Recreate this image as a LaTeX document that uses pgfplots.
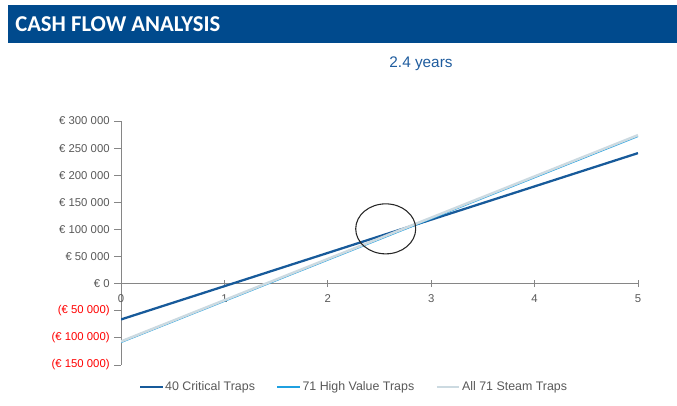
\documentclass[border=0pt]{standalone}
\usepackage{pgfplots}
\pgfplotsset{compat=1.18}
\usepackage{fontspec}
\setmainfont{Liberation Sans}
\newfontfamily\carlito{Carlito}
\definecolor{banner}{HTML}{004A8D}
\definecolor{titleblue}{HTML}{1F5C9E}
\definecolor{darkblue}{HTML}{175A9A}
\definecolor{brightblue}{HTML}{1FA0E0}
\definecolor{lightgray}{HTML}{CCDAE1}
\definecolor{axisgray}{HTML}{868686}
\definecolor{labelgray}{HTML}{595959}
\begin{document}
\begin{tikzpicture}
\useasboundingbox (0,0) rectangle (507.75pt,303.75pt);
\fill[banner] (6pt,271.5pt) rectangle (507.75pt,300pt);
\node[anchor=west,text=white,inner sep=0pt] at (11.25pt,285.75pt) {\carlito\bfseries\fontsize{17}{20}\selectfont CASH FLOW ANALYSIS};
\node[text=titleblue,inner sep=0pt] at (315.75pt,256.1pt) {\fontsize{11.5}{13}\selectfont 2.4 years};
\begin{axis}[
  at={(90.75pt,30pt)}, anchor=south west,
  scale only axis, width=387.75pt, height=183pt,
  xmin=0, xmax=5, ymin=-150000, ymax=300000,
  axis x line=middle, axis y line=left,
  axis line style={-,axisgray,line width=0.6pt},
  hide obscured x ticks=false, hide obscured y ticks=false,
  scaled y ticks=false,
  xtick={0,1,2,3,4,5},
  ytick={-150000,-100000,-50000,0,50000,100000,150000,200000,250000,300000},
  yticklabels={\textcolor{red}{(€ 150 000)},\textcolor{red}{(€ 100 000)},\textcolor{red}{(€ 50 000)},€ 0,€ 50 000,€ 100 000,€ 150 000,€ 200 000,€ 250 000,€ 300 000},
  xtick align=center, ytick align=outside,
  major tick length=5pt,
  tick style={axisgray,line width=0.6pt},
  every tick label/.append style={font=\fontsize{8.5}{10}\selectfont, text=labelgray},
  /pgf/number format/assume math mode=true,
  xticklabel style={yshift=-2pt},
  legend columns=3,
  legend style={draw=none, at={(0.45,-0.09)}, anchor=center, font=\fontsize{9.3}{11}\selectfont, text=labelgray,
    /tikz/every even column/.append style={column sep=15pt}, inner sep=0pt,
    nodes={inner xsep=1pt}},
  legend image code/.code={\draw[#1] (0pt,0pt) -- (17pt,0pt);},
  legend cell align=left,
]
\addplot[darkblue, line width=1.7pt] coordinates {(0,-66000) (5,240800)};
\addlegendentry{40 Critical Traps}
\addplot[brightblue, line width=1.7pt] coordinates {(0,-107500) (5,272500)};
\addlegendentry{71 High Value Traps}
\addplot[lightgray, line width=1.9pt] coordinates {(0,-106600) (5,273900)};
\addlegendentry{All 71 Steam Traps}
\draw[black!85, line width=0.8pt] (axis cs:2.56,101100) ellipse [x radius=22.5pt, y radius=18.75pt];
\end{axis}
\end{tikzpicture}
\end{document}
